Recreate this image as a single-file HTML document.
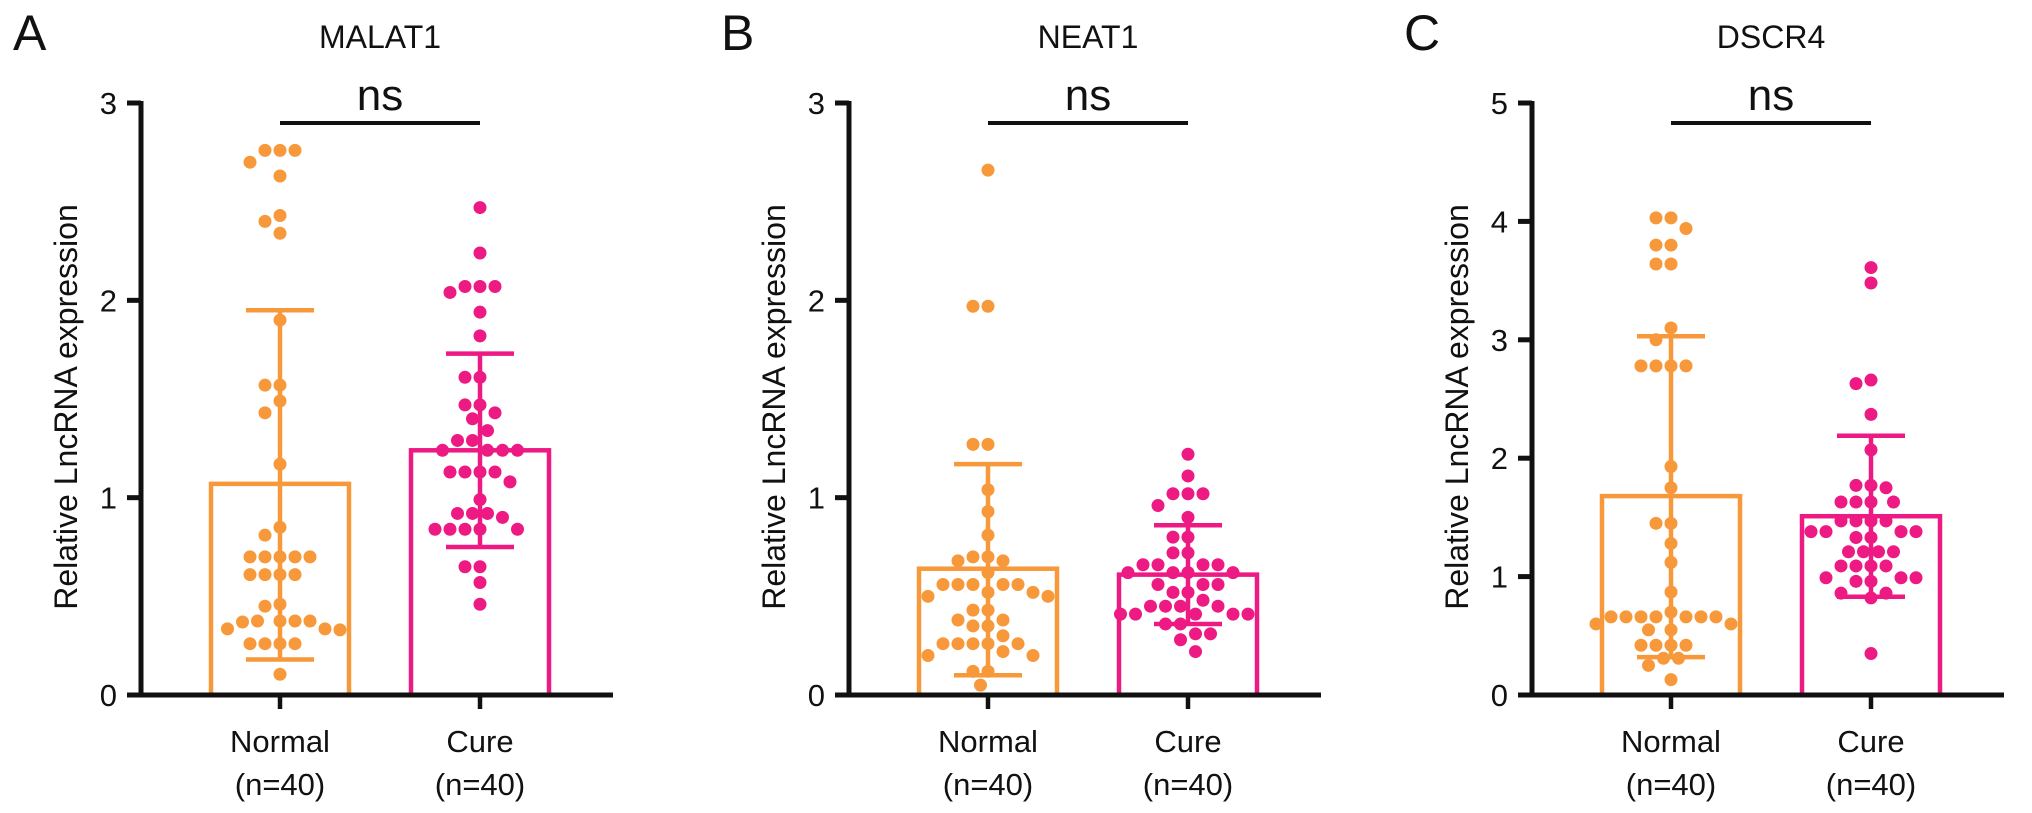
<!DOCTYPE html>
<html><head><meta charset="utf-8"><style>
html,body{margin:0;padding:0;background:#fff;}
svg{display:block;font-family:"Liberation Sans",Arial,sans-serif;}
</style></head><body>
<svg id="fig" width="2032" height="813" viewBox="0 0 2032 813" xmlns="http://www.w3.org/2000/svg"></svg>
<script>
const categories = ["Normal", "Cure"];
const panelTitles = ["MALAT1", "NEAT1", "DSCR4"];
const panelLetters = ["A", "B", "C"];
const yMaxes = [3, 3, 5];
const tickLabelsA = [0, 1, 2, 3];
const tickLabelsB = [0, 1, 2, 3];
const tickLabelsC = [0, 1, 2, 3, 4, 5];

const normalA = [2.76,2.76,2.76,2.70,2.63,2.43,2.40,2.34,1.90,1.57,1.57,1.49,1.43,1.17,0.85,0.81,0.70,0.70,0.70,0.70,0.70,0.61,0.61,0.61,0.61,0.46,0.45,0.375,0.375,0.375,0.375,0.37,0.335,0.335,0.33,0.26,0.26,0.26,0.26,0.105];
const cureA = [2.47,2.24,2.07,2.07,2.07,2.04,1.94,1.82,1.61,1.61,1.47,1.47,1.43,1.40,1.34,1.29,1.29,1.24,1.24,1.24,1.24,1.13,1.13,1.13,1.13,1.08,0.99,0.92,0.92,0.92,0.90,0.84,0.84,0.84,0.84,0.84,0.65,0.65,0.57,0.46];
const normalB = [2.66,1.97,1.97,1.27,1.27,1.04,0.93,0.81,0.70,0.70,0.68,0.68,0.62,0.56,0.56,0.56,0.56,0.56,0.52,0.52,0.50,0.50,0.43,0.43,0.38,0.38,0.35,0.35,0.30,0.26,0.26,0.26,0.26,0.26,0.22,0.20,0.20,0.12,0.12,0.05];
const cureB = [1.22,1.11,1.02,1.02,1.02,0.96,0.90,0.80,0.80,0.72,0.72,0.66,0.66,0.66,0.66,0.62,0.62,0.62,0.62,0.56,0.56,0.56,0.52,0.52,0.48,0.45,0.45,0.45,0.45,0.41,0.41,0.41,0.41,0.41,0.36,0.36,0.31,0.31,0.28,0.22];
const normalC = [4.03,4.03,3.94,3.80,3.80,3.64,3.64,3.10,3.00,2.78,2.78,2.78,2.78,1.93,1.75,1.45,1.45,1.28,1.12,0.87,0.70,0.66,0.66,0.66,0.66,0.66,0.66,0.66,0.60,0.60,0.55,0.55,0.42,0.42,0.42,0.42,0.31,0.31,0.25,0.13];
const cureC = [3.61,3.48,2.66,2.63,2.37,2.07,1.77,1.77,1.75,1.63,1.63,1.63,1.63,1.47,1.47,1.47,1.47,1.38,1.38,1.38,1.38,1.33,1.33,1.21,1.21,1.21,1.21,1.09,1.09,1.09,1.09,0.99,0.99,0.99,0.96,0.96,0.86,0.86,0.82,0.35];

const meansA = [1.07, 1.24];
const meansB = [0.64, 0.61];
const meansC = [1.68, 1.51];
const errLowA = [0.18, 0.75];
const errHighA = [1.95, 1.73];
const errLowB = [0.10, 0.36];
const errHighB = [1.17, 0.86];
const errLowC = [0.32, 0.83];
const errHighC = [3.03, 2.19];

const svg = document.getElementById('fig');
const NS = 'http://www.w3.org/2000/svg';
const COLORS = ['#F7993A', '#EE1A84'];
function mk(tag, attrs, parent) {
  const e = document.createElementNS(NS, tag);
  for (const k in attrs) e.setAttribute(k, attrs[k]);
  (parent || svg).appendChild(e);
  return e;
}

const axisXs = [141, 849, 1532];
const Y0 = 695, YTOP = 103;
const panels = [
  {ticks: tickLabelsA, data: [normalA, cureA], means: meansA, lo: errLowA, hi: errHighA},
  {ticks: tickLabelsB, data: [normalB, cureB], means: meansB, lo: errLowB, hi: errHighB},
  {ticks: tickLabelsC, data: [normalC, cureC], means: meansC, lo: errLowC, hi: errHighC}
];

panels.forEach((p, pi) => {
  const ax = axisXs[pi];
  const ymax = yMaxes[pi];
  const ys = v => Y0 - (v / ymax) * (Y0 - YTOP);
  const xs = i => ax + 139 + i * 200;
  const g = mk('g', {});
  
  

  const letter = mk('text', {x: ax - 128, y: 50, 'font-size': 50, fill: '#111'}, g);
  letter.textContent = panelLetters[pi];
  
  

  const title = mk('text', {x: ax + 239, y: 48, 'font-size': 32, 'text-anchor': 'middle', fill: '#111'}, g);
  title.textContent = panelTitles[pi];
  
  

  const yl = mk('text', {transform: `translate(${ax - 64},${(Y0 + YTOP) / 2 + 8}) rotate(-90)`, 'font-size': 32, 'text-anchor': 'middle', fill: '#111'}, g);
  yl.textContent = 'Relative LncRNA expression';
  
  

  p.data.forEach((vals, ci) => {
    const cx = xs(ci), col = COLORS[ci];
    const bw = 138;
    const bar = mk('rect', {x: cx - bw / 2, y: ys(p.means[ci]), width: bw, height: Y0 - ys(p.means[ci]), fill: 'none', stroke: col, 'stroke-width': 4.5}, g);
    
    
    const eg = mk('g', {stroke: col, 'stroke-width': 4.5}, g);
    
    
    mk('line', {x1: cx, x2: cx, y1: ys(p.lo[ci]), y2: ys(p.hi[ci])}, eg);
    mk('line', {x1: cx - 34, x2: cx + 34, y1: ys(p.hi[ci]), y2: ys(p.hi[ci])}, eg);
    mk('line', {x1: cx - 34, x2: cx + 34, y1: ys(p.lo[ci]), y2: ys(p.lo[ci])}, eg);

    const r = 6.5, d = 15;
    const placed = [];
    const sorted = vals.slice().sort((a, b) => b - a);
    sorted.forEach(v => {
      const y = ys(v);
      let px = cx;
      for (let k = 0; k < 40; k++) {
        const off = (k % 2 === 0 ? 1 : -1) * Math.ceil(k / 2) * d / 2;
        const tx = cx + off;
        if (placed.every(q => Math.hypot(q[0] - tx, q[1] - y) >= d)) { px = tx; break; }
      }
      placed.push([px, y]);
      const c = mk('circle', {cx: px, cy: y, r: r, fill: col}, g);
      
      
    });

    const lab = mk('text', {x: cx, y: 752, 'font-size': 31, 'text-anchor': 'middle', fill: '#111'}, g);
    lab.textContent = categories[ci];
    
    
    const lab2 = mk('text', {x: cx, y: 795, 'font-size': 31, 'text-anchor': 'middle', fill: '#111'}, g);
    lab2.textContent = '(n=40)';
    
    
    mk('line', {x1: cx, x2: cx, y1: Y0, y2: Y0 + 14, stroke: '#111', 'stroke-width': 4.5}, g);
  });

  const axg = mk('g', {stroke: '#111', 'stroke-width': 5}, g);
  
  
  mk('line', {x1: ax, x2: ax, y1: YTOP - 2, y2: Y0}, axg);
  mk('line', {x1: ax - 14, x2: ax + 472, y1: Y0, y2: Y0}, axg);
  p.ticks.forEach(t => {
    mk('line', {x1: ax - 14, x2: ax, y1: ys(t), y2: ys(t)}, axg);
    const tl = mk('text', {x: ax - 24, y: ys(t) + 11, 'font-size': 31, 'text-anchor': 'end', fill: '#111', stroke: 'none'}, g);
    tl.textContent = t;
    
    
  });

  const sl = mk('line', {x1: xs(0), x2: xs(1), y1: 123, y2: 123, stroke: '#111', 'stroke-width': 4}, g);
  
  
  const ns = mk('text', {x: (xs(0) + xs(1)) / 2, y: 110, 'font-size': 44, 'text-anchor': 'middle', fill: '#111'}, g);
  ns.textContent = 'ns';
  
  
});
</script>
</body></html>
